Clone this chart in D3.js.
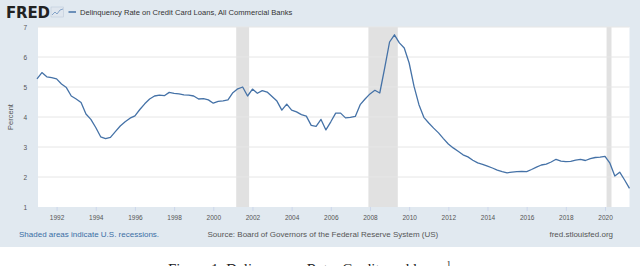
<!DOCTYPE html>
<html><head><meta charset="utf-8">
<script src="https://cdn.jsdelivr.net/npm/d3@7"></script>
<style>html,body{margin:0;padding:0;background:#fff;overflow:hidden}</style>
</head><body><svg id="c" width="640" height="266"></svg>
<script>
// Quarterly delinquency rate (%), 1991Q1 .. 2021Q2
const startYear = 1991;
const values = [
  5.27,5.48,5.34,5.31, 5.27,5.10,4.98,4.70, 4.60,4.48,4.10,3.92, 3.65,3.34,3.28,3.32,
  3.51,3.70,3.84,3.96, 4.04,4.25,4.44,4.60, 4.70,4.73,4.71,4.82, 4.79,4.77,4.74,4.73,
  4.70,4.60,4.61,4.57, 4.46,4.52,4.54,4.57, 4.81,4.94,5.00,4.70, 4.93,4.79,4.88,4.83,
  4.68,4.53,4.23,4.43, 4.23,4.17,4.08,4.03, 3.72,3.69,3.92,3.57, 3.84,4.13,4.13,3.97,
  3.99,4.02,4.41,4.60, 4.77,4.89,4.80,5.63, 6.50,6.74,6.47,6.30, 5.80,5.02,4.41,3.99,
  3.80,3.63,3.47,3.28, 3.10,2.97,2.86,2.74, 2.67,2.56,2.47,2.42, 2.36,2.30,2.23,2.18,
  2.14,2.16,2.18,2.19, 2.18,2.25,2.33,2.40, 2.43,2.50,2.59,2.53, 2.51,2.52,2.56,2.59,
  2.55,2.61,2.65,2.66, 2.69,2.46,2.03,2.16, 1.90,1.62
];
const recessions = [[2001.17, 2001.83], [2007.92, 2009.42], [2020.08, 2020.33]];
const yTicks = [1,2,3,4,5,6,7];
const xTicks = [1992,1994,1996,1998,2000,2002,2004,2006,2008,2010,2012,2014,2016,2018,2020];
const title = "Delinquency Rate on Credit Card Loans, All Commercial Banks";
const yLabel = "Percent";
const noteText = "Shaded areas indicate U.S. recessions.";
const sourceText = "Source: Board of Governors of the Federal Reserve System (US)";
const siteText = "fred.stlouisfed.org";
const captionText = "Figure 1: Delinquency Rate: Credit card loans";

(function(){
const data = values.map((v,i)=>({t:startYear + i/4, v}));
const svg = d3.select("#c");
const font = "'Liberation Sans', Arial, sans-serif";

svg.append("rect").attr("x",0).attr("y",0).attr("width",640).attr("height",247).attr("fill","#e1e9f0");

const pL = 37, pR = 629.5, pT = 27, pB = 207;
const x = d3.scaleLinear().domain([1991, 2021.25]).range([pL, pR]);
const y = d3.scaleLinear().domain([1,7]).range([pB, pT]);

svg.append("rect").attr("x",pL+1).attr("y",pT).attr("width",pR-pL-1).attr("height",pB-pT).attr("fill","#fff");

svg.selectAll(".rec").data(recessions).join("rect")
  .attr("x",d=>x(d[0])).attr("y",pT).attr("width",d=>x(d[1])-x(d[0])).attr("height",pB-pT)
  .attr("fill","#e1e1e1");

svg.selectAll(".grid").data(yTicks.slice(1)).join("line")
  .attr("x1",pL+1).attr("x2",pR).attr("y1",d=>y(d)).attr("y2",d=>y(d))
  .attr("stroke","#e6e6e6").attr("stroke-width",1);

const yAxis = d3.axisLeft(y).tickValues(yTicks).tickFormat(d3.format("d")).tickSize(0).tickPadding(10);
const ya = svg.append("g").attr("transform",`translate(${pL},0)`).call(yAxis);
ya.select(".domain").remove();
ya.selectAll("text").attr("font-family",font).attr("font-size","6.5px").attr("fill","#555");

const xAxis = d3.axisBottom(x).tickValues(xTicks).tickFormat(d3.format("d")).tickSize(4).tickPadding(4);
const xa = svg.append("g").attr("transform",`translate(0,${pB})`).call(xAxis);
xa.select(".domain").remove();
xa.selectAll("line").attr("stroke","#ccd6eb");
xa.selectAll("text").attr("font-family",font).attr("font-size","6.5px").attr("fill","#555");

svg.append("path").datum(data)
  .attr("d", d3.line().x(d=>x(d.t)).y(d=>y(d.v)))
  .attr("fill","none").attr("stroke","#4572a7").attr("stroke-width",1.3).attr("stroke-linejoin","round");

svg.append("text").attr("transform","translate(13,117) rotate(-90)").attr("text-anchor","middle")
  .attr("font-family",font).attr("font-size","7.5px").attr("fill","#555").text(yLabel);

svg.append("text").attr("x",6).attr("y",17.5).attr("font-family","'DejaVu Sans', Arial, sans-serif")
  .attr("font-weight","900").attr("font-size","15px").attr("fill","#222").attr("letter-spacing","-0.2").text("FRED");
const ic = svg.append("g").attr("transform","translate(51,7)");
ic.append("rect").attr("width",12.5).attr("height",10).attr("fill","#dfe6ee").attr("stroke","#b8c6d6").attr("stroke-width",0.5);
ic.append("polyline").attr("points","1,8 4,5 6,7 9,3 12,2").attr("fill","none").attr("stroke","#7a9cc4").attr("stroke-width",0.9);
svg.append("line").attr("x1",68.5).attr("x2",76).attr("y1",12).attr("y2",12).attr("stroke","#4572a7").attr("stroke-width",1.5);
svg.append("text").attr("x",80).attr("y",14.5).attr("font-family",font).attr("font-size","7.6px").attr("fill","#333").text(title);

svg.append("text").attr("x",19).attr("y",236.5).attr("font-family",font).attr("font-size","8px").attr("fill","#3a6ea5").text(noteText);
svg.append("text").attr("x",207.5).attr("y",236.5).attr("font-family",font).attr("font-size","8px").attr("fill","#555").text(sourceText);
svg.append("text").attr("x",613).attr("y",236.5).attr("text-anchor","end").attr("font-family",font).attr("font-size","8px").attr("fill","#555").text(siteText);

const cap = svg.append("text").attr("x",168).attr("y",273.5).attr("font-family","'Liberation Serif', 'Times New Roman', serif").attr("font-size","15px").attr("fill","#222");
cap.append("tspan").text(captionText);
cap.append("tspan").attr("dx",2).attr("dy",-6.5).attr("font-size","9px").text("1");
})();
</script></body></html>
